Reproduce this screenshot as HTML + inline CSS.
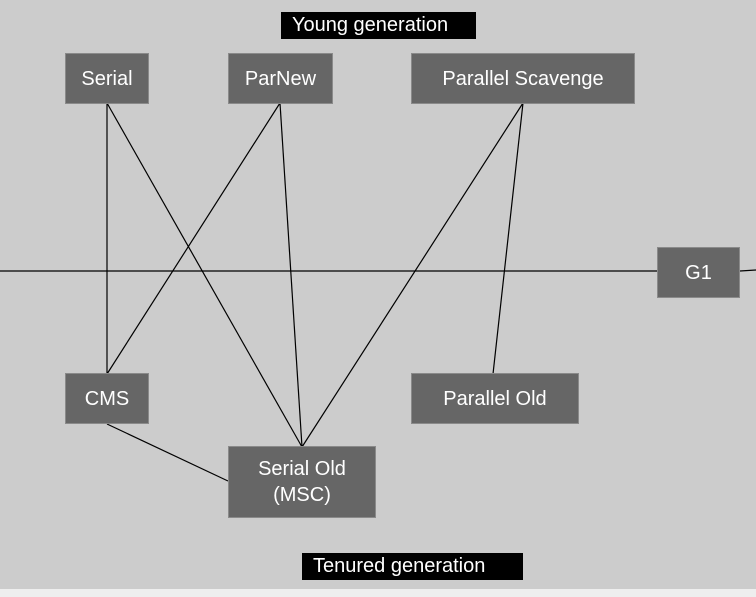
<!DOCTYPE html>
<html><head><meta charset="utf-8"><style>
html,body{margin:0;padding:0;}
body{width:756px;height:597px;background:#cccccc;position:relative;overflow:hidden;font-family:"Liberation Sans",sans-serif;}
.box{position:absolute;background:#666666;border:1px solid #8a8a8a;box-sizing:border-box;color:#fff;font-size:20px;display:flex;align-items:center;justify-content:center;text-align:center;line-height:26px;}
.lbl{position:absolute;background:#000;color:#fff;font-size:20px;box-sizing:border-box;padding-left:11px;line-height:27px;}
svg{position:absolute;left:0;top:0;}
</style></head><body>
<div style="position:absolute;left:0;top:589px;width:756px;height:8px;background:#eeeeee"></div>
<svg width="756" height="597">
<g stroke="#000" stroke-width="1.2" fill="none">
<line x1="0" y1="271" x2="657" y2="271"/>
<line x1="740" y1="271" x2="756" y2="270"/>
<line x1="107" y1="103" x2="107" y2="374"/>
<line x1="107" y1="103" x2="302" y2="447"/>
<line x1="280" y1="103" x2="107" y2="374"/>
<line x1="280" y1="103" x2="302" y2="447"/>
<line x1="523" y1="103" x2="302" y2="447"/>
<line x1="523" y1="103" x2="493" y2="374"/>
<line x1="107" y1="424" x2="228" y2="481"/>
</g></svg>
<div class="lbl" style="left:281px;top:12px;width:195px;height:27px;">Young generation</div>
<div class="lbl" style="left:302px;top:553px;width:221px;height:27px;">Tenured generation</div>
<div class="box" style="left:65px;top:53px;width:84px;height:51px;">Serial</div>
<div class="box" style="left:228px;top:53px;width:105px;height:51px;">ParNew</div>
<div class="box" style="left:411px;top:53px;width:224px;height:51px;">Parallel Scavenge</div>
<div class="box" style="left:657px;top:247px;width:83px;height:51px;">G1</div>
<div class="box" style="left:65px;top:373px;width:84px;height:51px;">CMS</div>
<div class="box" style="left:411px;top:373px;width:168px;height:51px;">Parallel Old</div>
<div class="box" style="left:228px;top:446px;width:148px;height:72px;">Serial Old<br>(MSC)</div>
</body></html>
